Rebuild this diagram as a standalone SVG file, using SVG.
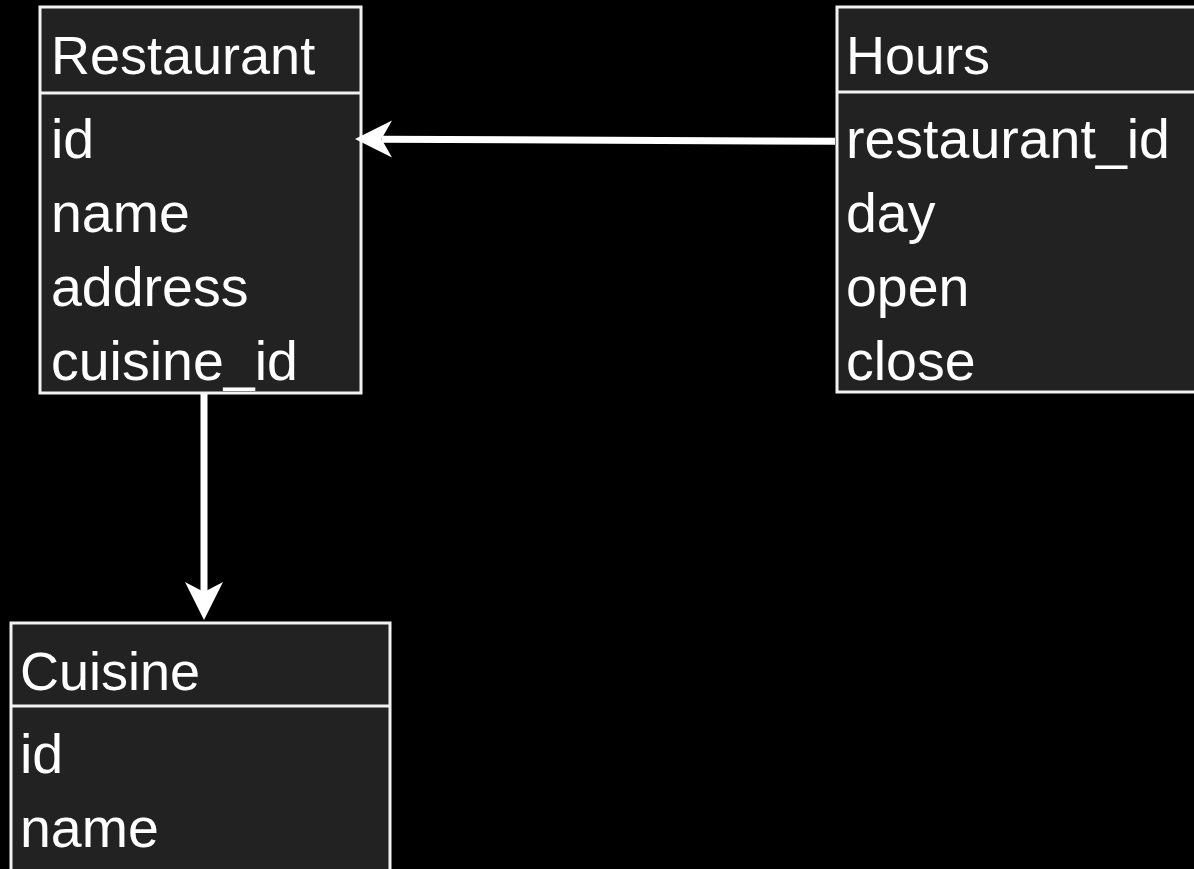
<svg xmlns="http://www.w3.org/2000/svg" width="1194" height="869" viewBox="0 0 1194 869">
<style>
.box{fill:#222222;stroke:#f2f2f2;stroke-width:3}
.div{stroke:#f2f2f2;stroke-width:3}
.t{font-family:"Liberation Sans",Arial,sans-serif;font-size:55.5px;fill:#ffffff}
.h{font-size:54px}
.conn{stroke:#ffffff;stroke-width:7;fill:none}
.head{fill:#ffffff}
</style>
<rect width="1194" height="869" fill="#000000"/>
<g id="restaurant">
<rect class="box" x="40" y="7" width="321" height="386"/>
<line class="div" x1="40" y1="93" x2="361" y2="93"/>
<text class="t h" x="51" y="74">Restaurant</text>
<text class="t" x="51" y="158">id</text>
<text class="t" x="51" y="232">name</text>
<text class="t" x="51" y="306">address</text>
<text class="t" x="51" y="380">cuisine_id</text>
</g>
<g id="hours">
<rect class="box" x="837" y="7" width="400" height="385"/>
<line class="div" x1="837" y1="92" x2="1237" y2="92"/>
<text class="t h" x="846" y="74">Hours</text>
<text class="t" x="846" y="158">restaurant_id</text>
<text class="t" x="846" y="232">day</text>
<text class="t" x="846" y="306">open</text>
<text class="t" x="846" y="380">close</text>
</g>
<g id="cuisine">
<rect class="box" x="11" y="623" width="379" height="300"/>
<line class="div" x1="11" y1="706" x2="390" y2="706"/>
<text class="t h" x="20" y="690">Cuisine</text>
<text class="t" x="20" y="773">id</text>
<text class="t" x="20" y="847">name</text>
</g>
<g id="connectors">
<line class="conn" x1="835" y1="141.3" x2="382" y2="139.2"/>
<polygon class="head" points="355,139 392,120.5 381.5,139 392,157.5"/>
<line class="conn" x1="204" y1="394" x2="204" y2="594"/>
<polygon class="head" points="204,620 185,582 204,592 223,582"/>
</g>
</svg>
